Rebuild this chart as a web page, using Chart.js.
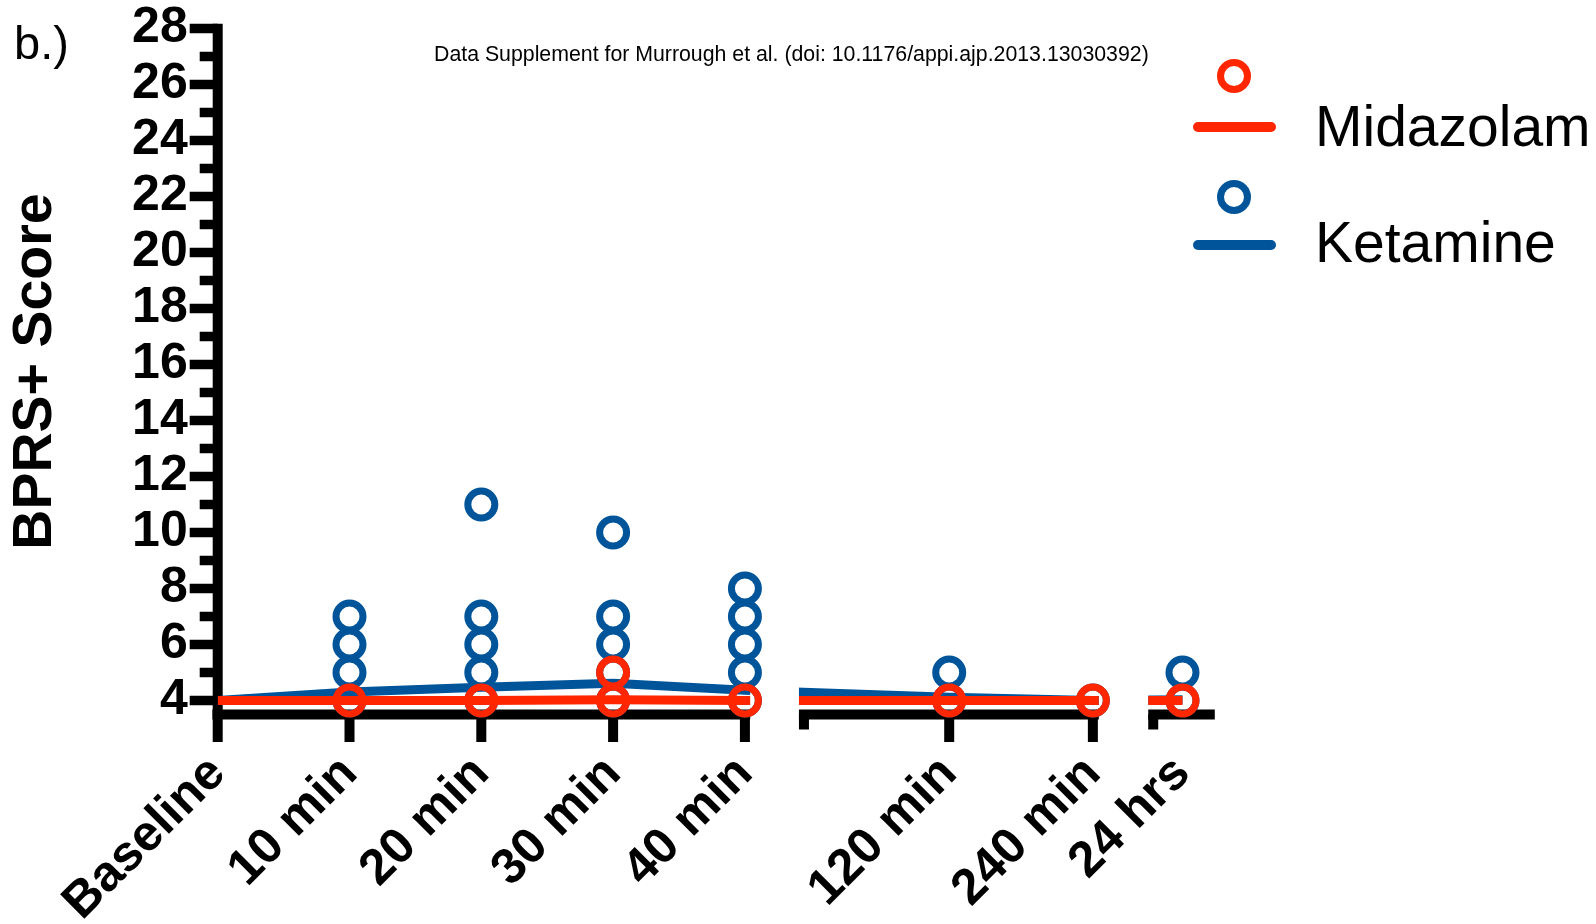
<!DOCTYPE html>
<html>
<head>
<meta charset="utf-8">
<script src="https://cdn.jsdelivr.net/npm/chart.js@4.4.1/dist/chart.umd.min.js"></script>
<style>
  html, body { margin: 0; padding: 0; background: #fff; }
  #wrap { position: relative; width: 1596px; height: 924px; font-family: "Liberation Sans", Arial, Helvetica, sans-serif; }
  #wrap canvas { position: absolute; left: 0; top: 0; }
  .txt { position: absolute; white-space: nowrap; line-height: 1; color: #000; }
  .ring { position: absolute; width: 34px; height: 34px; box-sizing: border-box; border-radius: 50%; border: 7px solid; }
  .bar { position: absolute; width: 83px; height: 10px; border-radius: 5px; }
</style>
</head>
<body>
<div id="wrap">
  <canvas id="chart" width="1596" height="924"></canvas>
  <div class="txt" style="left:14px;top:19px;font-size:47px">b.)</div>
  <div class="txt" style="left:434px;top:44px;font-size:21.3px">Data Supplement for Murrough et al. (doi: 10.1176/appi.ajp.2013.13030392)</div>
  <div id="legend"></div>
</div>
<script>
// time points, in the order they sit on the (broken) x axis
const timeLabels = ['Baseline', '10 min', '20 min', '30 min', '40 min', '120 min', '240 min', '24 hrs'];
const timeAxisPos = [0, 1, 2, 3, 4, 5.55, 6.64, 7.32];

// group means (the lines)
const midazolamMean = [4, 4, 4, 4.03, 4, 4, 4, 4];
const ketamineMean = [4, 4.3, 4.47, 4.62, 4.37, 4.12, 4.0, 4.03];

// individual scores (the open circles), one list per time point
const midazolamScores = [[], [4], [4], [4, 5], [4], [4], [4], [4]];
const ketamineScores = [[], [4, 5, 6, 7], [4, 5, 6, 7, 11], [4, 5, 6, 7, 10], [4, 5, 6, 7, 8], [4, 5], [4], [4, 5]];

const yTickValues = [4, 6, 8, 10, 12, 14, 16, 18, 20, 22, 24, 26, 28];

const seriesNames = ['Midazolam', 'Ketamine'];
const RED = '#ff2600';
const BLUE = '#00559a';
const FONT = '"Liberation Sans", Arial, Helvetica, sans-serif';

// pieces of the broken x axis, in axis units
const axisSegments = [[-0.04, 4.04], [4.41, 6.685], [7.06, 7.565]];

function toPoints(means) {
    return means.map((v, i) => ({ x: timeAxisPos[i], y: v }));
}
function scatterPoints(scores) {
    const pts = [];
    scores.forEach((list, i) => list.forEach(v => pts.push({ x: timeAxisPos[i], y: v })));
    return pts;
}

// draws the prism-style axes (with breaks) and clips the lines to the segments
const brokenAxis = {
    id: 'brokenAxis',
    beforeDatasetsDraw(chart) {
        const ctx = chart.ctx, xs = chart.scales.x, ys = chart.scales.y;
        const axX = xs.getPixelForValue(0);
        const axY = ys.getPixelForValue(3.5);
        const lw = 10;
        ctx.save();
        ctx.fillStyle = '#000';
        // y axis
        const yTop = ys.getPixelForValue(28) - 4.75;
        ctx.fillRect(axX - lw / 2, yTop, lw, axY + 27.5 - yTop);
        for (let v = 4; v <= 28; v++) {
            const py = ys.getPixelForValue(v);
            const len = v % 2 === 0 ? 28 : 18;
            ctx.fillRect(axX - len, py - 4.75, len, 9.5);
        }
        // x axis pieces
        axisSegments.forEach(([a, b], k) => {
            const l = xs.getPixelForValue(a), r = xs.getPixelForValue(b);
            ctx.fillRect(l, axY - lw / 2, r - l, lw);
            if (k > 0) ctx.fillRect(l, axY, lw, 15);
        });
        for (let i = 1; i < timeAxisPos.length - 1; i++) {
            const px = xs.getPixelForValue(timeAxisPos[i]);
            ctx.fillRect(px - lw / 2, axY, lw, 27.5);
        }
        ctx.restore();
    },
    beforeDatasetDraw(chart, args) {
        if (args.meta.type !== 'line') return;
        const ctx = chart.ctx, xs = chart.scales.x;
        ctx.save();
        ctx.beginPath();
        axisSegments.forEach(([a, b]) => {
            const l = xs.getPixelForValue(a), r = xs.getPixelForValue(b);
            ctx.rect(l, 0, r - l, chart.height);
        });
        ctx.clip();
    },
    afterDatasetDraw(chart, args) {
        if (args.meta.type !== 'line') return;
        chart.ctx.restore();
    }
};

new Chart(document.getElementById('chart'), {
    type: 'line',
    data: {
        datasets: [
            { type: 'line', label: 'Ketamine', data: toPoints(ketamineMean), borderColor: BLUE, borderWidth: 9, pointRadius: 0, tension: 0, order: 3 },
            { type: 'scatter', label: 'Ketamine', data: scatterPoints(ketamineScores), borderColor: BLUE, backgroundColor: 'rgba(0,0,0,0)', borderWidth: 7, pointRadius: 13.5, clip: false, order: 2 },
            { type: 'line', label: 'Midazolam', data: toPoints(midazolamMean), borderColor: RED, borderWidth: 9, pointRadius: 0, tension: 0, order: 1 },
            { type: 'scatter', label: 'Midazolam', data: scatterPoints(midazolamScores), borderColor: RED, backgroundColor: 'rgba(0,0,0,0)', borderWidth: 7, pointRadius: 13.5, clip: false, order: 0 }
        ]
    },
    options: {
        responsive: false,
        animation: false,
        events: [],
        layout: { padding: { top: 28.5, right: 376.6, bottom: 0, left: 0 } },
        plugins: { legend: { display: false }, tooltip: { enabled: false } },
        scales: {
            x: {
                type: 'linear', min: 0, max: 7.6,
                afterBuildTicks: s => { s.ticks = timeAxisPos.map(v => ({ value: v })); },
                afterFit: s => { s.height = 209.5; },
                grid: { display: false, drawTicks: false },
                border: { display: false },
                ticks: {
                    autoSkip: false, minRotation: 45, maxRotation: 45, padding: 30, color: '#000',
                    font: { family: FONT, size: 50, weight: 'bold' },
                    callback: (v, i) => timeLabels[i]
                }
            },
            y: {
                type: 'linear', min: 3.5, max: 28,
                afterBuildTicks: s => { s.ticks = yTickValues.map(v => ({ value: v })); },
                afterFit: s => { s.width = 217.7; },
                // tick marks are drawn by the plugin; the tick length only spaces the labels
                grid: { display: false, drawTicks: true, tickLength: 30 },
                border: { display: false },
                ticks: { padding: 0, color: '#000', font: { family: FONT, size: 50, weight: 'bold', lineHeight: 1 } },
                title: {
                    display: true, text: 'BPRS+ Score', color: '#000',
                    font: { family: FONT, size: 55.5, weight: 'bold', lineHeight: 1.2 },
                    padding: { top: 2, bottom: 0 }
                }
            }
        }
    },
    plugins: [brokenAxis]
});

// legend: open circle over a thick line, name to the right
const legend = document.getElementById('legend');
[RED, BLUE].forEach((c, i) => {
    const dy = i * 118;
    legend.insertAdjacentHTML('beforeend',
        `<div class="ring" style="left:1217px;top:${58.7 + dy + (i ? 3 : 0)}px;border-color:${c}"></div>` +
        `<div class="bar" style="left:1193px;top:${121.9 + dy}px;background:${c}"></div>` +
        `<div class="txt" style="left:1315px;top:${97.5 + dy - (i ? 2 : 0)}px;font-size:57px">${seriesNames[i]}</div>`);
});
</script>
</body>
</html>
